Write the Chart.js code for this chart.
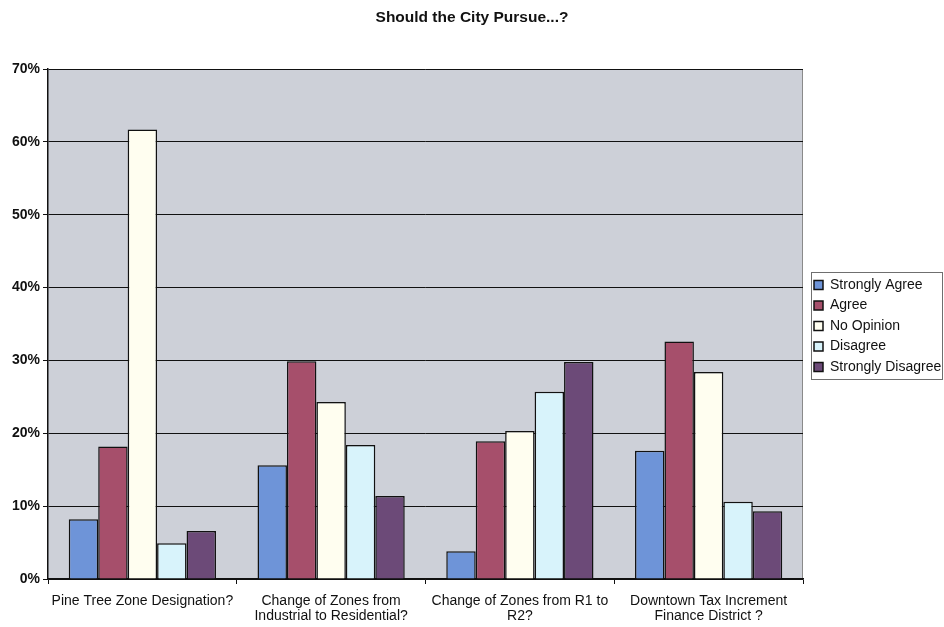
<!DOCTYPE html>
<html>
<head>
<meta charset="utf-8">
<script src="https://cdn.jsdelivr.net/npm/chart.js@4"></script>
<style>
  html, body { margin: 0; padding: 0; background: #ffffff; }
  #wrap { width: 944px; height: 627px; }
</style>
</head>
<body>
<div id="wrap"><canvas id="c" width="944" height="627"></canvas></div>
<script>
// Survey questions (x categories)
const categories = [
  'Pine Tree Zone Designation?',
  ['Change of Zones from', 'Industrial to Residential?'],
  ['Change of Zones from R1 to', 'R2?'],
  ['Downtown Tax Increment', 'Finance District ?']
];

// Share of responses per question, in percent
const stronglyAgree    = [8.2, 15.6, 3.8, 17.6];
const agree            = [18.2, 29.9, 18.9, 32.6];
const noOpinion        = [61.7, 24.3, 20.3, 28.4];
const disagree         = [4.9, 18.4, 25.7, 10.6];
const stronglyDisagree = [6.6, 11.4, 29.8, 9.3];

const seriesNames = ['Strongly Agree', 'Agree', 'No Opinion', 'Disagree', 'Strongly Disagree'];
const seriesColors = ['#6e94d8', '#a64f6b', '#fffef0', '#d8f3fb', '#6c4a78'];
const yTicks = [0, 10, 20, 30, 40, 50, 60, 70];

const seriesValues = [stronglyAgree, agree, noOpinion, disagree, stronglyDisagree];

const FONT = 'Liberation Sans, Arial, sans-serif';
const LEGEND_PAD = 6.5;
const LEGEND_ROW = 14;

// Grey plot-area fill, legend placement and legend frame
const plotDecor = {
  id: 'plotDecor',
  afterLayout(chart) {
    const lg = chart.legend;
    if (lg) {
      lg.top += 12.5; lg.bottom += 12.5;
      lg.left += 4.5; lg.right += 4.5;
    }
  },
  beforeDraw(chart) {
    const { ctx, chartArea: a } = chart;
    ctx.save();
    ctx.fillStyle = '#cdd0d8';
    ctx.fillRect(a.left, a.top, a.right - a.left, a.bottom - a.top);
    ctx.strokeStyle = '#8a8a8a';
    ctx.lineWidth = 1;
    ctx.beginPath();
    ctx.moveTo(a.right - 0.5, a.top);
    ctx.lineTo(a.right - 0.5, a.bottom);
    ctx.stroke();
    ctx.restore();
  },
  afterDraw(chart) {
    const lg = chart.legend;
    if (!lg) return;
    const n = lg.legendItems.length;
    const colH = n * (LEGEND_ROW + LEGEND_PAD);
    const y0 = (lg.top + LEGEND_PAD + lg.bottom - colH) / 2;
    const { ctx } = chart;
    ctx.save();
    ctx.strokeStyle = '#6f6f6f';
    ctx.lineWidth = 1;
    const left = Math.round(lg.left + LEGEND_PAD - 3) + 0.5;
    const top = Math.round(y0 - 6) + 0.5;
    const bottom = Math.round(y0 + colH - LEGEND_PAD + 5) + 0.5;
    ctx.strokeRect(left, top, chart.width - 1.5 - left, bottom - top);
    ctx.restore();
  }
};

new Chart(document.getElementById('c'), {
  type: 'bar',
  data: {
    labels: categories,
    datasets: seriesNames.map((name, i) => ({
      label: name,
      data: seriesValues[i],
      backgroundColor: seriesColors[i],
      borderColor: '#111111',
      borderWidth: 1.5,
      categoryPercentage: 0.78,
      barPercentage: 1.0
    }))
  },
  options: {
    responsive: false,
    animation: false,
    devicePixelRatio: 1,
    layout: { padding: { left: 0, right: 0, top: 0, bottom: 0 } },
    plugins: {
      title: {
        display: true,
        text: 'Should the City Pursue...?',
        color: '#111111',
        font: { family: FONT, size: 15.5, weight: 'bold', lineHeight: 1.2 },
        padding: { top: 8.7, bottom: 41.7 }
      },
      legend: {
        position: 'right',
        align: 'center',
        maxWidth: 141,
        labels: {
          color: '#111111',
          font: { family: FONT, size: 14 },
          boxWidth: 9,
          boxHeight: 9,
          padding: LEGEND_PAD
        }
      },
      tooltip: { enabled: false }
    },
    scales: {
      x: {
        grid: {
          display: true,
          offset: true,
          drawOnChartArea: false,
          drawTicks: true,
          tickLength: 5,
          color: '#111111'
        },
        border: { display: true, color: '#111111', width: 1.5 },
        ticks: {
          color: '#111111',
          maxRotation: 0,
          autoSkip: false,
          padding: 9,
          font: { family: FONT, size: 14, lineHeight: 1.1 }
        },
        afterFit(scale) { scale.height = 48; }
      },
      y: {
        min: 0,
        max: 70,
        afterBuildTicks(scale) { scale.ticks = yTicks.map(v => ({ value: v })); },
        grid: {
          color: '#111111',
          lineWidth: 1,
          tickLength: 5,
          drawTicks: true
        },
        border: { display: true, color: '#111111', width: 1.5 },
        ticks: {
          color: '#111111',
          padding: 3,
          font: { family: FONT, size: 14, weight: 'bold' },
          callback: v => v + '%'
        },
        afterFit(scale) { scale.width = 48; }
      }
    }
  },
  plugins: [plotDecor]
});
</script>
</body>
</html>
